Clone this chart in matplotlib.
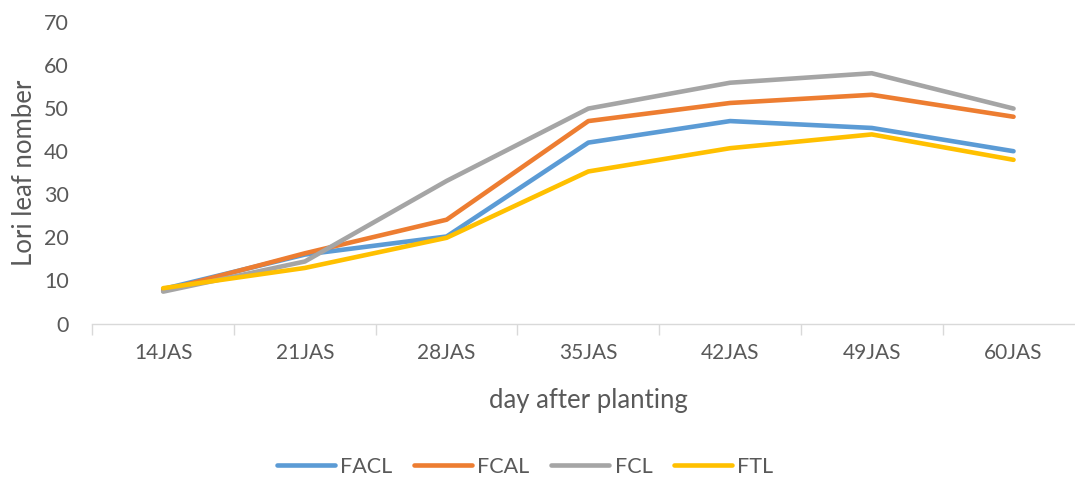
import numpy as np
import matplotlib.pyplot as plt

days = ["14JAS", "21JAS", "28JAS", "35JAS", "42JAS", "49JAS", "60JAS"]
facl = [8.0, 16.0, 20.2, 42.0, 47.0, 45.4, 40.0]
fcal = [7.6, 16.3, 24.1, 47.0, 51.2, 53.1, 48.0]
fcl = [7.4, 14.4, 33.1, 49.9, 55.9, 58.1, 49.9]
ftl = [8.2, 12.9, 19.9, 35.3, 40.7, 43.9, 38.0]

series = [("FACL", facl, "#5B9BD5"),
          ("FCAL", fcal, "#ED7D31"),
          ("FCL", fcl, "#A5A5A5"),
          ("FTL", ftl, "#FFC000")]

plt.rcParams['font.family'] = ['Lato', 'DejaVu Sans']
text_color = "#595959"

fig = plt.figure(figsize=(10.75, 4.79), dpi=100)
# axes slightly wider than the figure, like the cropped original
ax = fig.add_axes([92.3 / 1075, 1 - 323.5 / 479, (1084.4 - 92.3) / 1075, (323.5 - 22) / 479])

x = np.arange(len(days))
for name, vals, color in series:
    ax.plot(x, vals, color=color, lw=3.3, label=name, solid_capstyle='round')

ax.set_xlim(-0.5, len(days) - 0.5)
ax.set_ylim(0, 70)
ax.set_yticks(range(0, 71, 10))
ax.set_xticks(x)
ax.set_xticklabels(days)
ax.set_xticks(np.arange(-0.5, len(days), 1.0), minor=True)
ax.tick_params(axis='x', which='major', length=0, pad=14, labelsize=15, labelcolor=text_color)
ax.tick_params(axis='x', which='minor', length=8, color="#D9D9D9", width=1)
ax.tick_params(axis='y', length=0, pad=17, labelsize=15.5, labelcolor=text_color)

for side in ['top', 'right', 'left']:
    ax.spines[side].set_visible(False)
ax.spines['bottom'].set_color("#D9D9D9")
ax.spines['bottom'].set_linewidth(1)

ax.set_xlabel("day after planting", fontsize=18.5, color=text_color)
ax.xaxis.set_label_coords((588 - 92.3) / (1084.4 - 92.3), -0.215)
ax.set_ylabel("Lori leaf nomber", fontsize=18.5, color=text_color)
ax.yaxis.set_label_coords(-55 / (1084.4 - 92.3), 0.5)

fig.legend(loc='center', bbox_to_anchor=(525 / 1075, 1 - 467 / 479), ncol=4,
           frameon=False, fontsize=15.5, labelcolor=text_color, handlelength=2.7,
           columnspacing=1.0, handletextpad=0.25)

fig.savefig("out.png", dpi=100)
